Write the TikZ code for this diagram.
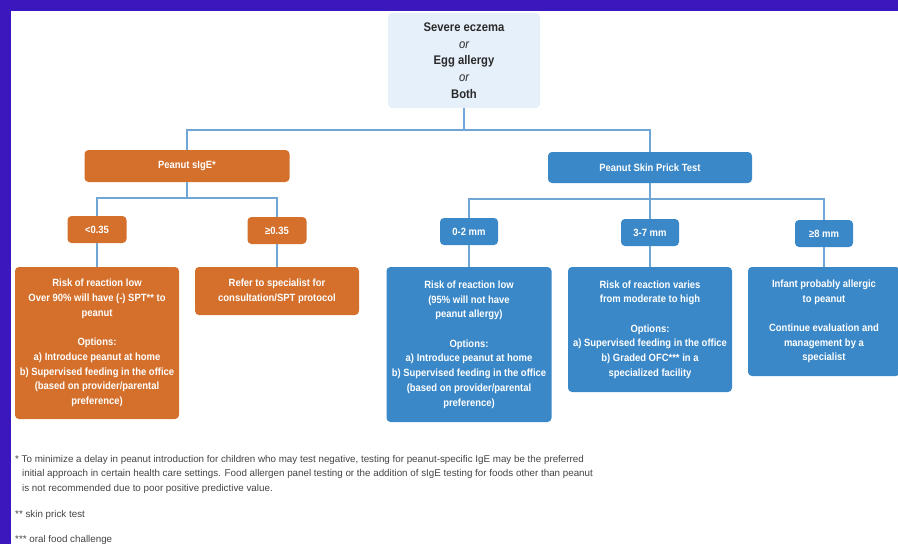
\documentclass[tikz,border=0pt]{standalone}
\usepackage{fontspec}
\setmainfont{Liberation Sans}[FakeStretch=0.9]
\newfontfamily\notefont{Liberation Sans}
\definecolor{framecol}{HTML}{3A18BE}
\definecolor{orangecol}{HTML}{D4702C}
\definecolor{bluecol}{HTML}{3A88C8}
\definecolor{topcol}{HTML}{E6F0FA}
\definecolor{linkcol}{HTML}{6FA6D6}
\definecolor{darktext}{HTML}{2A2A2A}
\definecolor{notetext}{HTML}{444444}

\begin{document}
\begin{tikzpicture}
[x=1pt,y=-1pt,
every node/.style={rounded corners=4pt,inner sep=0pt,align=center,text=white,
  font=\bfseries\fontsize{10.5}{14.7}\selectfont},
orangebox/.style={fill=orangecol},
bluebox/.style={fill=bluecol},
note/.style={anchor=base west,rounded corners=0pt,text=notetext,align=left,
  font=\notefont\mdseries\fontsize{9.8}{14.5}\selectfont},
link/.style={draw=linkcol,line width=1.2pt}]
\fill[white] (0,0) rectangle (898,544);
\useasboundingbox (0,0) rectangle (898,544);
\fill[framecol] (0,0) rectangle (898,11);
\fill[framecol] (0,0) rectangle (11,544);
% start
\node[fill=topcol,text=darktext,minimum width=152pt,minimum height=95pt,
  font=\bfseries\fontsize{12.5}{16.8}\selectfont] (top) at (464,60.5)
  {Severe eczema\\{\mdseries\itshape or}\\Egg allergy\\{\mdseries\itshape or}\\Both};
% tests
\node[orangebox,minimum width=205pt,minimum height=32pt] (sige) at (187,166) {Peanut sIgE*};
\node[bluebox,minimum width=204pt,minimum height=31pt] (spt) at (650,167.5) {Peanut Skin Prick Test};
% results
\node[orangebox,minimum width=59pt,minimum height=27pt] (lo) at (97,229.5) {<0.35};
\node[orangebox,minimum width=59pt,minimum height=27pt] (hi) at (277,230.5) {≥0.35};
\node[bluebox,minimum width=58pt,minimum height=27pt] (mm02) at (469,231.5) {0-2 mm};
\node[bluebox,minimum width=58pt,minimum height=27pt] (mm37) at (650,232.5) {3-7 mm};
\node[bluebox,minimum width=58pt,minimum height=27pt] (mm8) at (824,233.5) {≥8 mm};
% outcomes
\node[orangebox,minimum width=164pt,minimum height=152pt] (riskA) at (97,343)
  {Risk of reaction low\\Over 90\% will have (-) SPT** to\\peanut\\[14.7pt]Options:\\
   a) Introduce peanut at home\\b) Supervised feeding in the office\\
   (based on provider/parental\\preference)};
\node[orangebox,minimum width=164pt,minimum height=48pt] (refer) at (277,291)
  {Refer to specialist for\\consultation/SPT protocol};
\node[bluebox,minimum width=165pt,minimum height=155pt] (riskB) at (469,344.5)
  {Risk of reaction low\\(95\% will not have\\peanut allergy)\\[14.7pt]Options:\\
   a) Introduce peanut at home\\b) Supervised feeding in the office\\
   (based on provider/parental\\preference)};
\node[bluebox,minimum width=164pt,minimum height=125pt] (varies) at (650,329.5)
  {Risk of reaction varies\\from moderate to high\\[14.7pt]Options:\\
   a) Supervised feeding in the office\\b) Graded OFC*** in a\\specialized facility};
\node[bluebox,minimum width=152pt,minimum height=109pt] (infant) at (824,321.5)
  {Infant probably allergic\\to peanut\\[14.7pt]Continue evaluation and\\
   management by a\\specialist};
% branch points
\coordinate (bar1) at (464,130);
\coordinate (bar2) at (187,198);
\coordinate (bar3) at (650,199);
\foreach \from/\to in {top/bar1,sige/bar2,spt/bar3,bar3/mm37,lo/riskA,hi/refer,mm02/riskB,mm37/varies,mm8/infant}
\draw[link] (\from) -- (\to);
\foreach \from/\to in {bar1/sige,bar1/spt,bar2/lo,bar2/hi,bar3/mm02,bar3/mm8}
\draw[link] (\from) -| (\to.north);
% footnotes
\node[note] (fn1a) at (15,462) {* To minimize a delay in peanut introduction for children who may test negative, testing for peanut-specific IgE may be the preferred};
\node[note] (fn1b) at (22,476.5) {initial approach in certain health care settings. Food allergen panel testing or the addition of sIgE testing for foods other than peanut};
\node[note] (fn1c) at (22,491) {is not recommended due to poor positive predictive value.};
\node[note] (fn2) at (15,517) {** skin prick test};
\node[note] (fn3) at (15,542) {*** oral food challenge};
\end{tikzpicture}
\end{document}
